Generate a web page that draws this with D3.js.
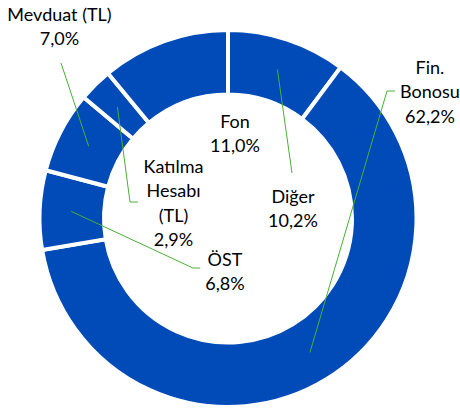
<!DOCTYPE html>
<html>
<head>
<meta charset="utf-8">
<script src="https://cdn.jsdelivr.net/npm/d3@7"></script>
<style>
  html, body { margin: 0; padding: 0; background: #fff; }
  svg { display: block; }
  text { font-family: Lato, "Open Sans", sans-serif; font-size: 18px; fill: #000; }
</style>
</head>
<body>
<svg id="chart" width="460" height="412"></svg>
<script>
// ---- data ----
const categories = ["Diğer", "Fin. Bonosu", "ÖST", "Mevduat (TL)", "Katılma Hesabı (TL)", "Fon"];
const shares = [10.2, 62.2, 6.8, 7.0, 2.9, 11.0];
const labelLines = [
  ["Diğer", "10,2%"],
  ["Fin.", "Bonosu", "62,2%"],
  ["ÖST", "6,8%"],
  ["Mevduat (TL)", "7,0%"],
  ["Katılma", "Hesabı", "(TL)", "2,9%"],
  ["Fon", "11,0%"]
];

// ---- layout (label placement, leader line end points) ----
const labelPos = [
  { x: 293, y: 203 },
  { x: 430, y: 74 },
  { x: 225, y: 266 },
  { x: 59.5, y: 21 },
  { x: 173.5, y: 173 },
  { x: 235, y: 128 }
];
const leaderEnds = [
  [[292, 173]],
  [[387, 91], [395, 91]],
  [[193, 268], [200, 268]],
  [[61, 63]],
  [[130, 202], [138, 202]],
  null
];

const W = 460, H = 412;
const cx = 228, cy = 218.5;
const gap = 4;
const rOuter = 186.5, rInner = 126;
const lineGap = 24.4;
const blue = "#004bb7";
const green = "#4caf37";

const svg = d3.select("#chart");
const g = svg.append("g").attr("transform", `translate(${cx},${cy})`);

const data = categories.map((c, i) => ({ name: c, value: shares[i], i }));
const pie = d3.pie().value(d => d.value).sort(null)(data);

const arc = d3.arc().innerRadius(rInner - gap / 2).outerRadius(rOuter + gap / 2);
const midArc = d3.arc().innerRadius(rInner).outerRadius(rOuter + 1.5);

g.selectAll("path.slice")
  .data(pie)
  .join("path")
  .attr("class", "slice")
  .attr("d", arc)
  .attr("fill", blue)
  .attr("stroke", "#fff")
  .attr("stroke-width", gap)
  .attr("stroke-linejoin", "miter");

// leader lines
pie.forEach((p, i) => {
  if (!leaderEnds[i]) return;
  const c = midArc.centroid(p);
  const pts = [[cx + c[0], cy + c[1]], ...leaderEnds[i]];
  svg.append("path")
    .attr("d", d3.line()(pts))
    .attr("fill", "none")
    .attr("stroke", green)
    .attr("stroke-width", 1);
});

// labels
labelLines.forEach((lines, i) => {
  const t = svg.append("text")
    .attr("text-anchor", "middle")
    .attr("x", labelPos[i].x)
    .attr("y", labelPos[i].y);
  lines.forEach((ln, k) => {
    t.append("tspan")
      .attr("x", labelPos[i].x)
      .attr("y", labelPos[i].y + k * lineGap)
      .text(ln);
  });
});
</script>
</body>
</html>
